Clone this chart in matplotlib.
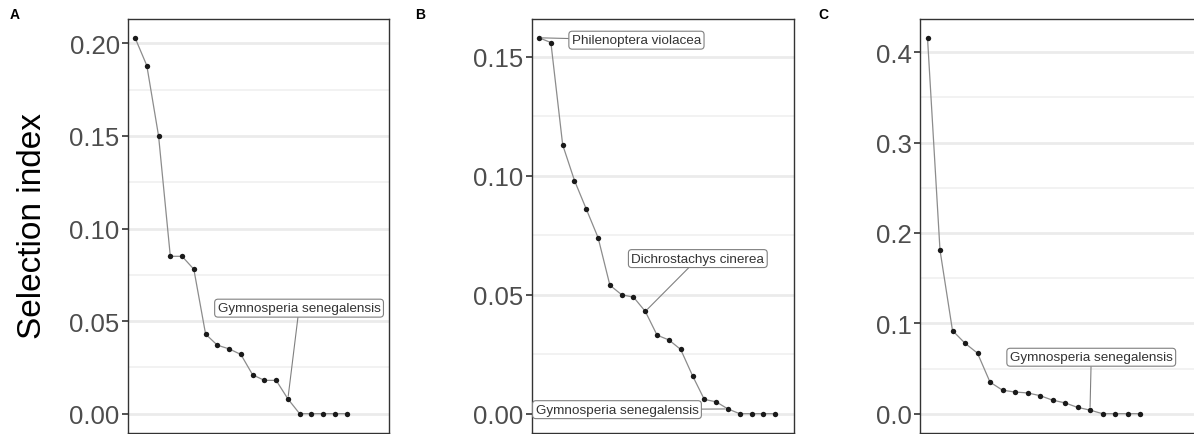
import matplotlib
matplotlib.use("Agg")
import matplotlib.pyplot as plt
from matplotlib.ticker import FormatStrFormatter, MultipleLocator

plt.rcParams['font.family'] = ['Liberation Sans', 'DejaVu Sans']

# selection index per species, ranked (panel A, B, C)
sel_a = [0.203, 0.188, 0.150, 0.085, 0.085, 0.078, 0.043, 0.037, 0.035, 0.032,
         0.021, 0.018, 0.018, 0.008, 0, 0, 0, 0, 0]
sel_b = [0.158, 0.156, 0.113, 0.098, 0.086, 0.074, 0.054, 0.050, 0.049, 0.043,
         0.033, 0.031, 0.027, 0.016, 0.006, 0.005, 0.002, 0, 0, 0, 0]
sel_c = [0.416, 0.181, 0.092, 0.078, 0.067, 0.035, 0.026, 0.024, 0.023, 0.020,
         0.015, 0.012, 0.007, 0.004, 0, 0, 0, 0]

panel_letters = ["A", "B", "C"]
# labelled species: (rank, name, label x, label y)
labels_a = [(14, "Gymnosperia senegalensis", 14.95, 0.057)]
labels_b = [(1, "Philenoptera violacea", 9.25, 0.157),
            (10, "Dichrostachys cinerea", 14.45, 0.0652),
            (17, "Gymnosperia senegalensis", 7.6, 0.0017)]
labels_c = [(14, "Gymnosperia senegalensis", 14.1, 0.0625)]

W, H = 1194, 435
fig = plt.figure(figsize=(W / 100, H / 100), dpi=100)

# panel frames in pixels (left, right)
boxes = [(128, 389), (532, 794), (920, 1197.5)]
letter_x = [15, 420, 823]
tick_step = [0.05, 0.05, 0.1]
fmt = ["%.2f", "%.2f", "%.1f"]

for i, (vals, labs) in enumerate(zip([sel_a, sel_b, sel_c],
                                     [labels_a, labels_b, labels_c])):
    l, r = boxes[i]
    ax = fig.add_axes([l / W, 1.5 / H, (r - l) / W, (435 - 20 - 1.5) / H])
    x = list(range(1, len(vals) + 1))
    ax.plot(x, vals, color="#8c8c8c", lw=0.9, zorder=3)
    ax.scatter(x, vals, s=15, color="#1a1a1a", zorder=4, linewidths=0)
    top = max(vals)
    ax.set_ylim(-0.05 * top, 1.05 * top)
    ax.set_xlim(0.4, 22.6)
    ax.yaxis.set_major_locator(MultipleLocator(tick_step[i]))
    ax.yaxis.set_minor_locator(MultipleLocator(tick_step[i] / 2))
    ax.yaxis.set_major_formatter(FormatStrFormatter(fmt[i]))
    ax.grid(axis="y", which="major", color="#ebebeb", lw=2.0, zorder=0)
    ax.grid(axis="y", which="minor", color="#efefef", lw=1.1, zorder=0)
    ax.set_axisbelow(True)
    ax.set_xticks([])
    ax.tick_params(axis="y", which="major", labelsize=18.5, labelcolor="#4d4d4d",
                   color="#333333", length=4, width=1.2, pad=2)
    ax.tick_params(axis="y", which="minor", length=0)
    for s in ax.spines.values():
        s.set_color("#333333")
        s.set_linewidth(1.0)
    for rank, name, tx, ty in labs:
        ax.annotate(name, xy=(rank, vals[rank - 1]), xytext=(tx, ty),
                    ha="center", va="center", fontsize=9.7, color="#333333",
                    bbox=dict(boxstyle="round,pad=0.22,rounding_size=0.25",
                              fc="white", ec="#808080", lw=0.8),
                    arrowprops=dict(arrowstyle="-", color="#808080", lw=0.8,
                                    shrinkA=0, shrinkB=2),
                    zorder=5, annotation_clip=False)
    fig.text(letter_x[i] / W, 1 - 15 / H, panel_letters[i], fontsize=10,
             fontweight="bold", ha="center", va="center", color="black")

fig.text(33 / W, 1 - 226 / H, "Selection index", rotation=90, fontsize=24,
         ha="center", va="center", color="black")

fig.savefig("out.png", dpi=100)
